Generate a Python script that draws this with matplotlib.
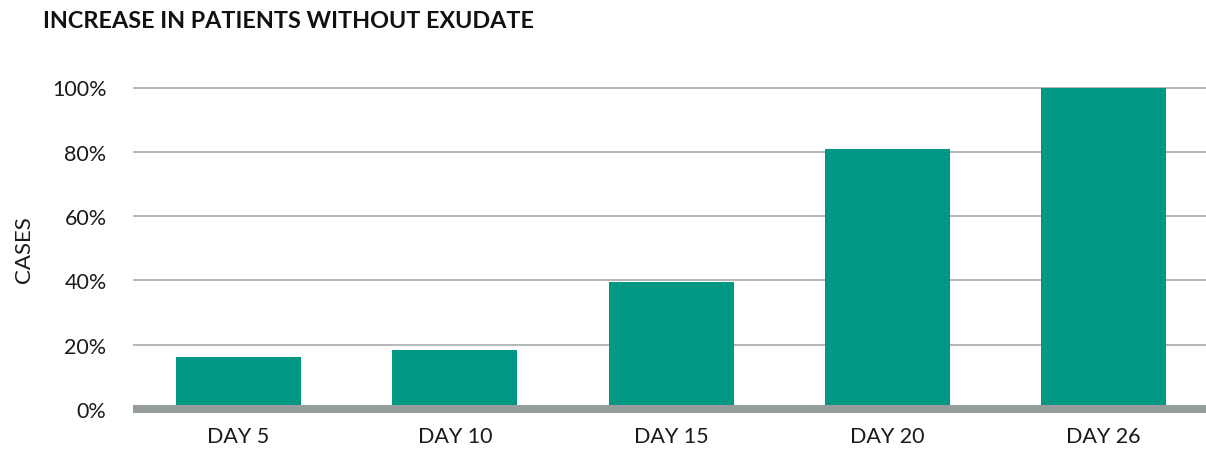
import matplotlib.pyplot as plt

plt.rcParams['font.family'] = ['Lato', 'DejaVu Sans']

# data
days = ['DAY 5', 'DAY 10', 'DAY 15', 'DAY 20', 'DAY 26']
cases_pct = [16.2, 18.4, 39.5, 81, 100]
y_ticks = [0, 20, 40, 60, 80, 100]
y_labels = ['0%', '20%', '40%', '60%', '80%', '100%']

bar_color = '#009882'
grid_color = '#b3b7b7'
base_color = '#979c9c'

fig = plt.figure(figsize=(12.06, 4.56), dpi=100)
ax = fig.add_axes([133 / 1206, 46 / 456, 1 - 133 / 1206, 321.5 / 456])

x = range(len(days))
ax.bar(x, cases_pct, width=0.578, color=bar_color, zorder=2)

ax.set_xlim(-0.488, 4.474)
ax.set_ylim(0, 100)

# gridlines
for t in y_ticks[1:]:
    ax.axhline(t, color=grid_color, linewidth=1.4, zorder=1, clip_on=False,
               solid_capstyle='butt')
# thick baseline
ax.axhline(0, color=base_color, linewidth=5.8, zorder=3, clip_on=False,
           solid_capstyle='butt')

ax.set_yticks(y_ticks)
ax.set_yticklabels(y_labels, fontsize=15.5, color='#1a1a1a')
ax.set_xticks(list(x))
ax.set_xticklabels(days, fontsize=15.5, color='#1a1a1a')
ax.tick_params(axis='y', length=0, pad=19)
ax.tick_params(axis='x', length=0, pad=12)

for s in ax.spines.values():
    s.set_visible(False)

ax.set_ylabel('CASES', fontsize=16, color='#1a1a1a', labelpad=13)

fig.text(43 / 1206, 1 - 21 / 456, 'INCREASE IN PATIENTS WITHOUT EXUDATE',
         fontsize=16.8, fontweight='bold', color='#111111', va='center', ha='left')

fig.savefig('out.png', dpi=100)
